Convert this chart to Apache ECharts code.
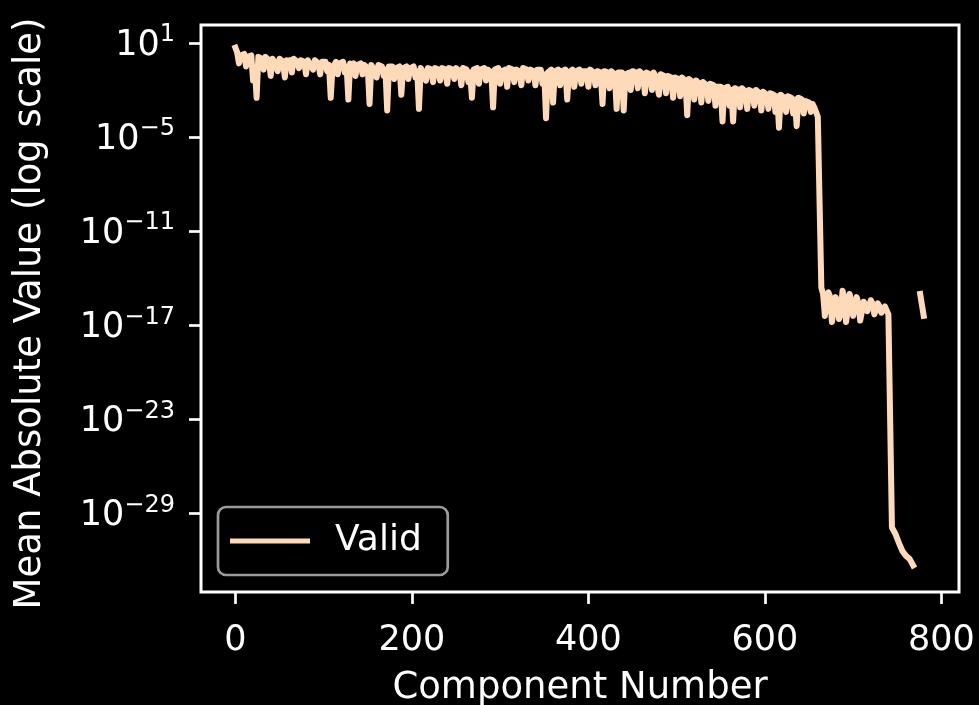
<!DOCTYPE html>
<html>
<head>
<meta charset="utf-8">
<title>Mean absolute value per component</title>
<script src="https://cdn.jsdelivr.net/npm/echarts@6.0.0/dist/echarts.min.js"></script>
<style>
  html, body { margin: 0; padding: 0; background: #000; }
  #chart { width: 979px; height: 705px; }
</style>
</head>
<body>
<div id="chart"></div>
<script>
// component index, read every 4th component
const componentNumbers = [
  0, 4, 8, 12, 16, 20, 24, 28, 32, 36,
  40, 44, 48, 52, 56, 60, 64, 68, 72, 76,
  80, 84, 88, 92, 96, 100, 104, 108, 112, 116,
  120, 124, 128, 132, 136, 140, 144, 148, 152, 156,
  160, 164, 168, 172, 176, 180, 184, 188, 192, 196,
  200, 204, 208, 212, 216, 220, 224, 228, 232, 236,
  240, 244, 248, 252, 256, 260, 264, 268, 272, 276,
  280, 284, 288, 292, 296, 300, 304, 308, 312, 316,
  320, 324, 328, 332, 336, 340, 344, 348, 352, 356,
  360, 364, 368, 372, 376, 380, 384, 388, 392, 396,
  400, 404, 408, 412, 416, 420, 424, 428, 432, 436,
  440, 444, 448, 452, 456, 460, 464, 468, 472, 476,
  480, 484, 488, 492, 496, 500, 504, 508, 512, 516,
  520, 524, 528, 532, 536, 540, 544, 548, 552, 556,
  560, 564, 568, 572, 576, 580, 584, 588, 592, 596,
  600, 604, 608, 612, 616, 620, 624, 628, 632, 636,
  640, 644, 648, 652, 656, 660, 664, 668, 672, 676,
  680, 684, 688, 692, 696, 700, 704, 708, 712, 716,
  720, 724, 728, 732, 736, 740, 744, 748, 752, 756,
  760, 764, 768, 772, 776, 780
]

// mean absolute value of those components (null = zero, not drawn on log scale)
const meanAbsValues = [
  5, 5e-1, 2, 3.2e-1, 1.6, 4e-2, 3.2e-3, 1.3, 2e-1, 1,
  7.9e-2, 6.3e-1, 1.6e-1, 1, 6.3e-2, 5e-1, 1.3e-1, 8e-1, 2.5e-1, 6.3e-1,
  1e-1, 5e-1, 2e-1, 6.3e-1, 1e-1, 5e-1, 1.6e-1, 3.2e-3, 4e-1, 1e-1,
  5e-1, 1.3e-1, 2.5e-3, 3.2e-1, 7.9e-2, 4e-1, 1e-1, 3.2e-1, 1.3e-3, 2.5e-1,
  6.3e-2, 3.2e-1, 7.9e-2, 5e-4, 2.5e-1, 5e-2, 3.2e-1, 5e-3, 2e-1, 5e-2,
  2.5e-1, 6.3e-2, 6.3e-4, 1.6e-1, 4e-2, 2e-1, 3.2e-2, 2.5e-1, 4e-2, 2e-1,
  2.5e-2, 2.5e-1, 5e-2, 2e-1, 2e-2, 2.5e-1, 3.2e-2, 3.2e-3, 2e-1, 2.5e-2,
  2.5e-1, 4e-2, 1.6e-1, 7.9e-4, 2e-1, 2.5e-2, 2e-1, 1.6e-2, 2.5e-1, 3.2e-2,
  1.6e-1, 2e-2, 2e-1, 4e-2, 1.6e-1, 2e-2, 2e-1, 2.5e-2, 1.6e-4, 1.6e-1,
  1.6e-3, 2e-1, 2e-2, 1.6e-1, 2.5e-3, 1.6e-1, 1.6e-2, 2e-1, 2.5e-2, 1.3e-1,
  1.6e-2, 1.6e-1, 2e-2, 1.3e-1, 1.3e-3, 1.6e-1, 1.3e-2, 1.3e-1, 6.3e-4, 1e-1,
  5e-4, 1.3e-1, 1e-2, 1.3e-1, 1.3e-2, 1.3e-1, 6.3e-3, 1.3e-1, 1e-2, 7.9e-2,
  5e-3, 1e-1, 6.3e-3, 6.3e-2, 3.2e-3, 6.3e-2, 4e-3, 5e-2, 2.5e-4, 4e-2,
  2.5e-3, 3.2e-2, 1.6e-3, 2.5e-2, 2e-3, 2e-2, 1e-3, 1.6e-2, 1e-4, 1.3e-2,
  1e-3, 1e-4, 1.3e-2, 7.9e-4, 1e-2, 6.3e-4, 1e-2, 1e-3, 7.9e-3, 5e-4,
  6.3e-3, 6.3e-4, 5e-3, 4e-4, 4e-5, 4e-3, 4e-4, 3.2e-3, 3.2e-4, 5e-5,
  2.5e-3, 3.2e-4, 1.6e-3, 4e-4, 7.9e-4, 2e-4, 2.5e-15, 4e-17, 1.3e-15, 1.6e-17,
  6.3e-16, 2.5e-17, 1.6e-15, 1.6e-17, 1e-15, 4e-17, 6.3e-16, 2e-17, 3.2e-16, 7.9e-17,
  4e-16, 5e-17, 2.5e-16, 6.3e-17, 1.6e-16, 5e-17, 1.3e-30, 5e-31, 1.3e-31, 4e-32,
  2e-32, 1.3e-32, 5e-33, null, 1e-15, 4e-17
]

// components in between, read along the top of the noisy band
const extraComponentNumbers = [
  2, 6, 10, 14, 18, 22, 26, 30, 34, 38,
  42, 46, 50, 54, 58, 62, 66, 70, 74, 78,
  82, 86, 90, 94, 98, 102, 106, 110, 114, 118,
  122, 126, 130, 134, 138, 142, 146, 150, 154, 158,
  162, 166, 170, 174, 178, 182, 186, 190, 194, 198,
  202, 206, 210, 214, 218, 222, 226, 230, 234, 238,
  242, 246, 250, 254, 258, 262, 266, 270, 274, 278,
  282, 286, 290, 294, 298, 302, 306, 310, 314, 318,
  322, 326, 330, 334, 338, 342, 346, 350, 354, 358,
  362, 366, 370, 374, 378, 382, 386, 390, 394, 398,
  402, 406, 410, 414, 418, 422, 426, 430, 434, 438,
  442, 446, 450, 454, 458, 462, 466, 470, 474, 478,
  482, 486, 490, 494, 498, 502, 506, 510, 514, 518,
  522, 526, 530, 534, 538, 542, 546, 550, 554, 558,
  562, 566, 570, 574, 578, 582, 586, 590, 594, 598,
  602, 606, 610, 614, 618, 622, 626, 630, 634, 638,
  642, 646, 650, 654, 658,
  666, 670, 674, 678, 682, 686, 690, 694, 698, 702,
  706, 710, 714, 718, 722, 726, 730, 734, 738, 742
]

const extraMeanAbsValues = [
  2.5, 1.6, 2, 1.3, 1.6, 2.5e-1, 1.3, 1, 1.3, 8e-1,
  1, 8e-1, 1, 6.3e-1, 8e-1, 8e-1, 1, 6.3e-1, 8e-1, 6.3e-1,
  8e-1, 6.3e-1, 8e-1, 5e-1, 6.3e-1, 6.3e-1, 4e-1, 2.5e-1, 6.3e-1, 5e-1,
  6.3e-1, 3.2e-1, 5e-1, 5e-1, 4e-1, 5e-1, 4e-1, 2.5e-1, 4e-1, 3.2e-1,
  4e-1, 3.2e-1, 2e-1, 3.2e-1, 3.2e-1, 2.5e-1, 3.2e-1, 2.5e-1, 3.2e-1, 2.5e-1,
  3.2e-1, 1.6e-1, 2.5e-1, 2e-1, 2.5e-1, 2e-1, 2.5e-1, 2e-1, 2.5e-1, 2e-1,
  2.5e-1, 2e-1, 2.5e-1, 1.6e-1, 2.5e-1, 2e-1, 1.3e-1, 2e-1, 2.5e-1, 2e-1,
  2.5e-1, 2e-1, 1.3e-1, 2e-1, 2.5e-1, 1.6e-1, 2e-1, 2.5e-1, 2e-1, 2e-1,
  1.6e-1, 2.5e-1, 2e-1, 2e-1, 1.6e-1, 2e-1, 2e-1, 1e-1, 1.3e-1, 2e-1,
  1.6e-1, 2e-1, 1.6e-1, 2e-1, 1.3e-1, 2e-1, 1.6e-1, 2e-1, 1.6e-1, 1.6e-1,
  2e-1, 1.3e-1, 1.6e-1, 1.3e-1, 1.6e-1, 1.3e-1, 1.6e-1, 1e-1, 1.3e-1, 1.3e-1,
  1e-1, 1.3e-1, 1.6e-1, 1.3e-1, 1.6e-1, 1e-1, 1.3e-1, 1e-1, 1.3e-1, 7.9e-2,
  1e-1, 7.9e-2, 7.9e-2, 6.3e-2, 6.3e-2, 5e-2, 6.3e-2, 4e-2, 5e-2, 3.2e-2,
  4e-2, 2.5e-2, 3.2e-2, 2e-2, 2.5e-2, 2e-2, 1.6e-2, 1.6e-2, 1.3e-2, 1.6e-2,
  1e-2, 1.3e-2, 1e-2, 1.3e-2, 7.9e-3, 1e-2, 7.9e-3, 1e-2, 6.3e-3, 7.9e-3,
  5e-3, 6.3e-3, 5e-3, 4e-3, 5e-3, 3.2e-3, 4e-3, 3.2e-3, 2.5e-3, 3.2e-3,
  2.5e-3, 2e-3, 1.6e-3, 1.3e-3, 6.3e-4,
  1e-15, 2.5e-16, 6.3e-16, 1e-16, 4e-16, 6.3e-17, 5e-16, 1e-16, 3.2e-16, 1.6e-16,
  2.5e-16, 7.9e-17, 2e-16, 1.6e-16, 2.5e-16, 1e-16, 1.6e-16, 7.9e-17, 1.3e-16, 5e-17
]

const xTicks = [0, 200, 400, 600, 800]
const yTicks = [1e1, 1e-5, 1e-11, 1e-17, 1e-23, 1e-29]
const seriesName = 'Valid'

const fg = '#ffffff'
const font = 'DejaVu Sans'
const lineColor = '#ffdab9'

function powerLabel(value) {
  const exp = Math.round(Math.log10(value))
  const text = exp < 0 ? '\u2212' + (-exp) : String(exp)
  return '{b|10}{s|' + text + '}'
}

const points = componentNumbers.map((x, i) => [x, meanAbsValues[i]])
  .concat(extraComponentNumbers.map((x, i) => [x, extraMeanAbsValues[i]]))
  .sort((a, b) => a[0] - b[0])

const chart = echarts.init(document.getElementById('chart'))

chart.setOption({
  animation: false,
  backgroundColor: '#000',
  grid: {
    left: 201,
    right: 20,
    top: 25,
    bottom: 113,
    containLabel: false,
    outerBoundsMode: 'none',
    show: true,
    borderColor: fg,
    borderWidth: 3,
    backgroundColor: 'transparent'
  },
  legend: {
    left: 218,
    top: 507,
    padding: [16, 26, 16, 12],
    itemWidth: 80,
    itemHeight: 5,
    backgroundColor: '#000',
    borderColor: '#9a9a9a',
    borderWidth: 2.7,
    borderRadius: 8,
    textStyle: { color: fg, fontSize: 36, fontFamily: font, padding: [0, 0, 0, 20] },
    data: [{ name: seriesName, icon: 'rect' }]
  },
  xAxis: {
    type: 'value',
    min: -39,
    max: 820,
    name: 'Component Number',
    nameLocation: 'middle',
    nameGap: 78,
    nameTextStyle: { color: fg, fontSize: 37, fontFamily: font },
    axisLine: { show: false, onZero: false },
    splitLine: { show: false },
    axisTick: { show: true, length: 12, lineStyle: { color: fg, width: 2.7 }, customValues: xTicks },
    axisLabel: { color: fg, fontSize: 35, fontFamily: font, margin: 31, customValues: xTicks }
  },
  yAxis: {
    type: 'log',
    logBase: 10,
    min: 1e-34,
    max: 140,
    name: 'Mean Absolute Value (log scale)',
    nameLocation: 'middle',
    nameGap: 152,
    nameTextStyle: { color: fg, fontSize: 37, fontFamily: font, padding: [0, 10, 0, 0] },
    axisLine: { show: false, onZero: false },
    splitLine: { show: false },
    axisTick: { show: true, length: 12, lineStyle: { color: fg, width: 2.7 }, customValues: yTicks },
    axisLabel: {
      margin: 26,
      customValues: yTicks,
      formatter: powerLabel,
      rich: {
        b: { color: fg, fontSize: 35, fontFamily: font, lineHeight: 35, verticalAlign: 'bottom' },
        s: { color: fg, fontSize: 24, fontFamily: font, lineHeight: 40, verticalAlign: 'top', padding: [0, 0, 7, 0] }
      }
    }
  },
  series: [{
    name: seriesName,
    type: 'line',
    data: points,
    showSymbol: false,
    symbol: 'none',
    connectNulls: false,
    lineStyle: { color: lineColor, width: 6, join: 'round', cap: 'square' },
    itemStyle: { color: lineColor }
  }]
})
</script>
</body>
</html>
